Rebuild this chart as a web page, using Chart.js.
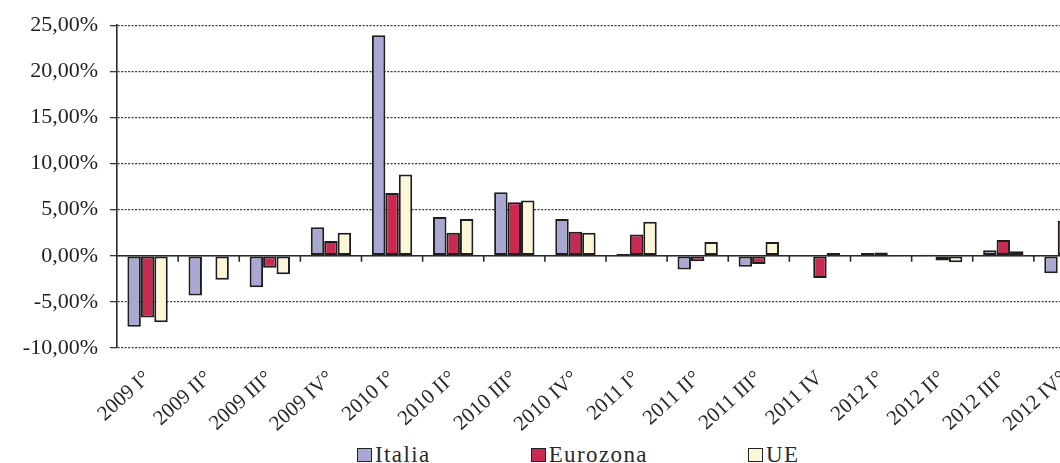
<!DOCTYPE html>
<html>
<head>
<meta charset="utf-8">
<script src="https://cdn.jsdelivr.net/npm/chart.js@4"></script>
<style>
  html, body { margin: 0; padding: 0; background: #fff; overflow: hidden; }
  .wrap { position: relative; width: 1100px; height: 463px; }
  .chart-box { position: absolute; left: 0; top: 0; width: 1100px; height: 440px; }
  #legend {
    position: absolute; left: 357px; top: 442px;
    display: flex; gap: 100px; align-items: center;
    font-family: "Liberation Serif", "Times New Roman", serif;
    font-size: 23px; letter-spacing: 1.4px; color: #2a2a2a;
  }
  #legend span.item { display: flex; align-items: center; }
  #legend i { display: inline-block; width: 13px; height: 12px; border: 1.6px solid #222; margin-right: 3px; }
</style>
</head>
<body>
<div class="wrap">
  <div class="chart-box"><canvas id="myChart"></canvas></div>
  <div id="legend"></div>
</div>
<script>
  // quarters
  let quarters = [
    "2009 I°", "2009 II°", "2009 III°", "2009 IV°",
    "2010 I°", "2010 II°", "2010 III°", "2010 IV°",
    "2011 I°", "2011 II°", "2011 III°", "2011 IV",
    "2012 I°", "2012 II°", "2012 III°", "2012 IV°",
  ];
  // percentage change per quarter
  let italia = [-7.7, -4.3, -3.4, 3.1, 23.9, 4.2, 6.9, 4.0, 0.2, -1.5, -1.2, -0.1, 0.3, 0.1, 0.6, -1.9];
  let eurozona = [-6.7, 0, -1.3, 1.6, 6.8, 2.5, 5.8, 2.6, 2.3, -0.6, -0.9, -2.4, 0.35, -0.5, 1.7, 3.8];
  let ue = [-7.2, -2.6, -2.0, 2.5, 8.8, 4.0, 6.0, 2.5, 3.7, 1.5, 1.5, 0.3, -0.1, -0.7, 0.5, 2.2];
  let yTicks = [-10, -5, 0, 5, 10, 15, 20, 25];

  const serif = '"Liberation Serif", "Times New Roman", serif';

  // solid zero line with small category ticks
  const zeroAxis = {
    id: "zeroAxis",
    beforeDatasetsDraw(chart) {
      const { ctx, chartArea, scales } = chart;
      const y0 = scales.y.getPixelForValue(0);
      ctx.save();
      ctx.strokeStyle = "#2a2a2a";
      ctx.lineWidth = 1.6;
      ctx.beginPath();
      ctx.moveTo(chartArea.left, y0);
      ctx.lineTo(chartArea.right, y0);
      for (let i = 1; i < quarters.length; i++) {
        const px = (scales.x.getPixelForValue(i - 1) + scales.x.getPixelForValue(i)) / 2;
        ctx.moveTo(px, y0);
        ctx.lineTo(px, y0 + 6);
      }
      ctx.stroke();
      ctx.restore();
    },
  };

  const bar = (label, values, color) => ({
    label: label,
    data: values,
    backgroundColor: color,
    borderColor: "#1e1e1e",
    borderWidth: 2,
    borderSkipped: false,
    barPercentage: 1,
    categoryPercentage: 0.66,
  });

  const data = {
    labels: quarters,
    datasets: [
      bar("Italia", italia, "#a9a8d2"),
      bar("Eurozona", eurozona, "#c92a52"),
      bar("UE", ue, "#fdf7da"),
    ],
  };

  const config = {
    type: "bar",
    data: data,
    options: {
      responsive: true,
      maintainAspectRatio: false,
      animation: false,
      layout: { padding: { top: 23, right: 5, left: 0, bottom: 0 } },
      plugins: {
        legend: { display: false },
        tooltip: { enabled: false },
      },
      scales: {
        x: {
          grid: { display: false },
          border: { display: false },
          ticks: {
            autoSkip: false,
            maxRotation: 42,
            minRotation: 42,
            padding: 10,
            color: "#2a2a2a",
            font: { family: serif, size: 21 },
          },
          afterFit: (scale) => { scale.height = 92; },
        },
        y: {
          min: -10,
          max: 25,
          afterBuildTicks: (scale) => { scale.ticks = yTicks.map((v) => ({ value: v })); },
          grid: { color: "#383838", lineWidth: 1.3, tickLength: 7 },
          border: { display: true, color: "#2a2a2a", width: 1.6, dash: [2, 1.5] },
          ticks: {
            padding: 12,
            color: "#222",
            font: { family: serif, size: 22 },
            callback: (v) => v.toFixed(2).replace(".", ",") + "%",
          },
          afterFit: (scale) => { scale.width = 117; },
        },
      },
    },
    plugins: [zeroAxis],
  };

  var myChart = new Chart(document.getElementById("myChart"), config);

  // legend row built from the chart's own legend items
  const legendEl = document.getElementById("legend");
  Chart.defaults.plugins.legend.labels.generateLabels(myChart).forEach((item) => {
    const el = document.createElement("span");
    el.className = "item";
    const box = document.createElement("i");
    box.style.background = item.fillStyle;
    el.appendChild(box);
    el.appendChild(document.createTextNode(item.text));
    legendEl.appendChild(el);
  });
</script>
</body>
</html>
